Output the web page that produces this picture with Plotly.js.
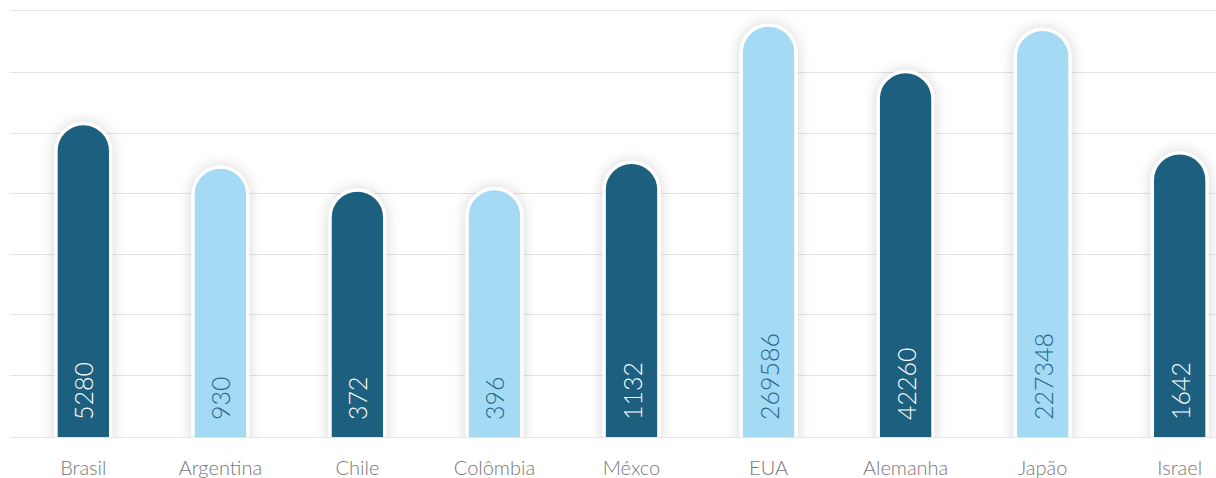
<!DOCTYPE html>
<html>
<head>
<meta charset="utf-8">
<script src="https://cdn.plot.ly/plotly-3.0.1.min.js"></script>
<style>
  html, body { margin: 0; padding: 0; background: #fff; overflow: hidden; }
  #chart { width: 1216px; height: 478px; }
  .trace.bars .point path { filter: drop-shadow(0 0 7px rgba(0,0,0,0.16)); }
</style>
</head>
<body>
<div id="chart"></div>
<script>
const categories = ["Brasil", "Argentina", "Chile", "Colômbia", "Méxco", "EUA", "Alemanha", "Japão", "Israel"];
const values = [5280, 930, 372, 396, 1132, 269586, 42260, 227348, 1642];

const DARK = "#1d5f7f";
const LIGHT = "#a5daf4";
const barColors = categories.map((_, i) => (i % 2 === 0 ? DARK : LIGHT));
const textColors = categories.map((_, i) => (i % 2 === 0 ? "#ffffff" : "#24678a"));

const FONT = "Lato, 'Open Sans', sans-serif";

const bars = {
  type: "bar",
  x: categories,
  y: values,
  text: values.map(String),
  texttemplate: "\u2002\u200a%{text}",
  textposition: "inside",
  insidetextanchor: "start",
  textangle: -90,
  insidetextfont: { family: FONT, size: 25, color: textColors, weight: 300 },
  width: 0.4,
  marker: {
    color: barColors,
    cornerradius: "50%",
    line: { color: "#ffffff", width: 3.5 }
  },
  hoverinfo: "none",
  xaxis: "x",
  yaxis: "y"
};

// empty trace that only carries the horizontal grid axis
const grid = {
  type: "scatter",
  mode: "markers",
  x: [],
  y: [],
  xaxis: "x",
  yaxis: "y2",
  hoverinfo: "none",
  showlegend: false
};

const layout = {
  width: 1216,
  height: 478,
  margin: { l: 10, r: 0, t: 11, b: 41 },
  paper_bgcolor: "#ffffff",
  plot_bgcolor: "rgba(0,0,0,0)",
  showlegend: false,
  font: { family: FONT },
  xaxis: {
    type: "category",
    range: [-0.535, 8.265],
    showgrid: false,
    zeroline: false,
    showline: true,
    mirror: true,
    linecolor: "#e4e4e4",
    linewidth: 1,
    layer: "below traces",
    ticks: "outside",
    ticklen: 13,
    tickcolor: "rgba(0,0,0,0)",
    tickfont: { family: FONT, size: 20, color: "#777777", weight: 300 },
    fixedrange: true
  },
  yaxis: {
    type: "log",
    range: [-1.710, 5.674],
    showgrid: false,
    zeroline: false,
    showticklabels: false,
    ticks: "",
    fixedrange: true
  },
  yaxis2: {
    overlaying: "y",
    range: [-0.0165, 7.0165],
    dtick: 1,
    tick0: 0,
    showgrid: true,
    gridcolor: "#e4e4e4",
    gridwidth: 1,
    zeroline: false,
    showticklabels: false,
    ticks: "",
    fixedrange: true
  }
};

Plotly.newPlot("chart", [grid, bars], layout, { staticPlot: true, displayModeBar: false });
</script>
</body>
</html>
